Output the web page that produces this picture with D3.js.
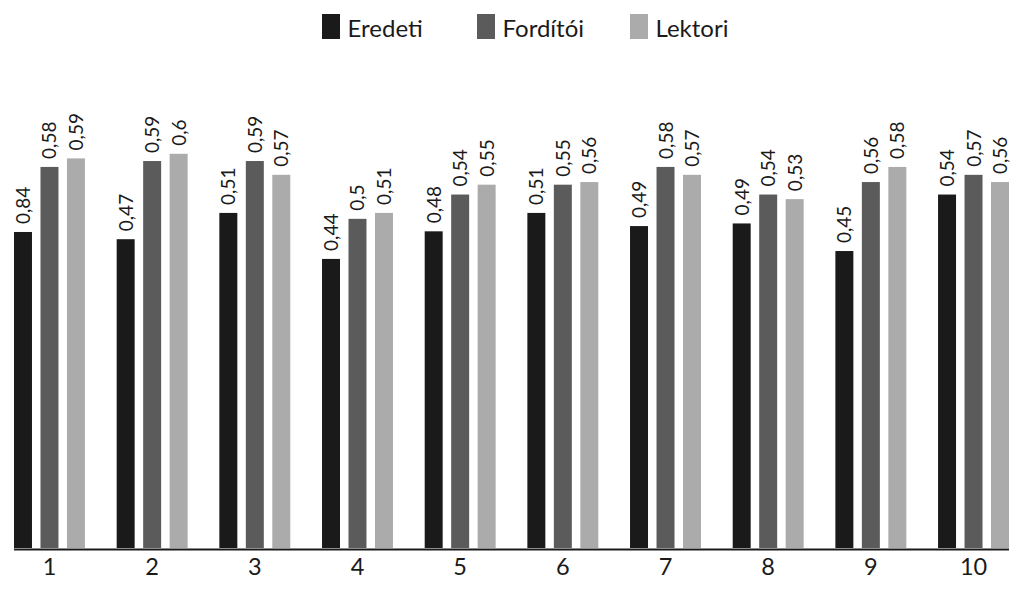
<!DOCTYPE html>
<html><head><meta charset="utf-8">
<script src="https://cdn.jsdelivr.net/npm/d3@7"></script>
<style>body{margin:0;background:#fff;}svg{display:block;font-family:Lato, "Open Sans", sans-serif;}</style>
</head><body><svg id="c" width="1023" height="590"></svg>
<script>
const categories = ["1","2","3","4","5","6","7","8","9","10"];
const seriesNames = ["Eredeti","Fordítói","Lektori"];
const colors = ["#1a1a1a","#5b5b5b","#ababab"];
const eredeti  = [0.481,0.470,0.510,0.440,0.482,0.510,0.490,0.494,0.452,0.538];
const forditoi = [0.580,0.589,0.589,0.501,0.538,0.553,0.580,0.538,0.557,0.568];
const lektori  = [0.593,0.600,0.568,0.510,0.553,0.557,0.568,0.531,0.580,0.557];
const eredetiLabels  = ["0,84","0,47","0,51","0,44","0,48","0,51","0,49","0,49","0,45","0,54"];
const forditoiLabels = ["0,58","0,59","0,59","0,5","0,54","0,55","0,58","0,54","0,56","0,57"];
const lektoriLabels  = ["0,59","0,6","0,57","0,51","0,55","0,56","0,57","0,53","0,58","0,56"];

const series = [eredeti, forditoi, lektori];
const labels = [eredetiLabels, forditoiLabels, lektoriLabels];

const svg = d3.select("#c");
const x0 = d3.scaleBand().domain(categories).range([14,1009]).paddingInner(0.309).paddingOuter(0);
const x1 = d3.scaleBand().domain(d3.range(3)).range([0,x0.bandwidth()]).paddingInner(0.321).paddingOuter(0);
const y = d3.scaleLinear().domain([0,1]).range([548,-109]);

const g = svg.append("g");
categories.forEach((c,i)=>{
  const gg = g.append("g").attr("transform",`translate(${x0(c)},0)`);
  series.forEach((s,j)=>{
    gg.append("rect").attr("x",x1(j)).attr("width",x1.bandwidth())
      .attr("y",y(s[i])).attr("height",y(0)-y(s[i])).attr("fill",colors[j]);
    const cx = x1(j)+x1.bandwidth()/2;
    const ty = y(s[i])-8;
    gg.append("text").attr("transform",`translate(${cx+7},${ty}) rotate(-90)`)
      .attr("text-anchor","start").attr("font-size",19).attr("fill","#1a1a1a")
      .text(labels[j][i]);
  });
});

// axis
const xAxis = d3.axisBottom(x0).tickSize(0).tickPadding(10);
const ax = svg.append("g").attr("transform","translate(0,548)").call(xAxis);
ax.select(".domain").remove();
ax.append("line").attr("x1",14).attr("x2",1009).attr("y1",1.5).attr("y2",1.5).attr("stroke","#1a1a1a").attr("stroke-width",2);
ax.selectAll(".tick text").attr("font-size",23.5).attr("fill","#1a1a1a").attr("font-family","Lato, 'Open Sans', sans-serif");

// legend
const legX = [322,477,630];
seriesNames.forEach((n,j)=>{
  svg.append("rect").attr("x",legX[j]).attr("y",14).attr("width",18).attr("height",25).attr("fill",colors[j]);
  svg.append("text").attr("x",legX[j]+25.5).attr("y",36.5).attr("font-size",24).attr("fill","#1a1a1a").text(n);
});
</script></body></html>
